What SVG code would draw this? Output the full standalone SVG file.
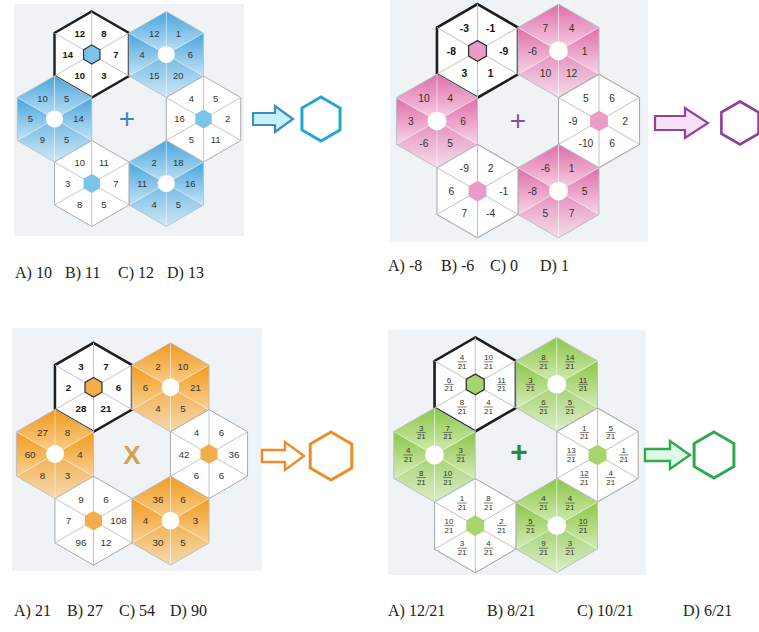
<svg xmlns="http://www.w3.org/2000/svg" xmlns:xlink="http://www.w3.org/1999/xlink" width="759" height="632" viewBox="0 0 759 632">
<style>
.bg{fill:#eff3f6}
.wf{fill:#fff;stroke:#a8a8a8;stroke-width:1.1}
.bf{fill:#fff;stroke:#1e1e1e;stroke-width:2.8}
.co{fill:none;stroke:#b4bec8;stroke-width:1}
.ws{fill:none;stroke:#bdbdbd;stroke-width:1}
.cs{fill:none;stroke:#fff;stroke-opacity:.55;stroke-width:1}
.lo{fill-opacity:.75}
.ck{stroke:#333;stroke-width:1.4}
.n{font-family:"Liberation Sans",Arial,sans-serif;font-size:11px;text-anchor:middle;fill:#333}
.nb{font-weight:bold;fill:#111}
.f{font-family:"Liberation Sans",Arial,sans-serif;font-size:8.5px;text-anchor:middle;fill:#333}
.fl{stroke:#444;stroke-width:.7}
.ans{font-family:"Liberation Serif","Times New Roman",serif;font-size:16px;fill:#222}
.op{font-family:"Liberation Sans",Arial,sans-serif;text-anchor:middle}
</style>
<defs>
<linearGradient id="gB" x1="0" y1="0" x2="0" y2="1"><stop offset="0" stop-color="#48a5dc"/><stop offset="1" stop-color="#c4e3f5"/></linearGradient>
<linearGradient id="gP" x1="0" y1="0" x2="0" y2="1"><stop offset="0" stop-color="#de6ea8"/><stop offset="1" stop-color="#f8d5e7"/></linearGradient>
<linearGradient id="gO" x1="0" y1="0" x2="0" y2="1"><stop offset="0" stop-color="#f29a1c"/><stop offset="1" stop-color="#f9d193"/></linearGradient>
<linearGradient id="gG" x1="0" y1="0" x2="0" y2="1"><stop offset="0" stop-color="#8cc646"/><stop offset="1" stop-color="#d6ecb8"/></linearGradient>
<polygon id="hx" points="0,-50 43.3,-25 43.3,25 0,50 -43.3,25 -43.3,-25"/>
<path id="sp" d="M0,-50V50M43.3,-25L-43.3,25M43.3,25L-43.3,-25"/>
<polygon id="sUR" points="0,0 0,-50 43.3,-25"/>
<polygon id="sR" points="0,0 43.3,-25 43.3,25"/>
<polygon id="sLR" points="0,0 43.3,25 0,50"/>
<polygon id="sLL" points="0,0 0,50 -43.3,25"/>
<polygon id="sL" points="0,0 -43.3,25 -43.3,-25"/>
<polygon id="sUL" points="0,0 -43.3,-25 0,-50"/>
<polygon id="ch" points="0,-11 9.53,-5.5 9.53,5.5 0,11 -9.53,5.5 -9.53,-5.5"/>
</defs>

<rect class="bg" x="14" y="4" width="230" height="232"/>
<rect class="bg" x="390" y="0" width="258" height="242"/>
<rect class="bg" x="12" y="328" width="250" height="243"/>
<rect class="bg" x="388" y="330" width="258" height="245"/>

<!-- Panel 1 -->
<g id="p1-tl" transform="translate(91.75,54.5) scale(.86)">
<use href="#hx" class="bf"/><use href="#sp" class="ws"/><use href="#ch" class="ck" fill="#7cc3ea"/>
<text class="n nb" x="-14" y="-20">12</text><text class="n nb" x="14" y="-20">8</text><text class="n nb" x="28" y="4">7</text><text class="n nb" x="14" y="28">3</text><text class="n nb" x="-14" y="28">10</text><text class="n nb" x="-28" y="4">14</text>
</g>
<g id="p1-tr" transform="translate(166.25,54.5) scale(.86)">
<use href="#sUL" fill="url(#gB)"/><use href="#sUR" fill="url(#gB)"/><use href="#sR" fill="url(#gB)"/><use href="#sL" fill="url(#gB)"/><use href="#sLR" class="lo" fill="url(#gB)"/><use href="#sLL" class="lo" fill="url(#gB)"/>
<use href="#sp" class="cs"/><use href="#hx" class="co"/><circle r="10" fill="#fff"/>
<text class="n" x="-14" y="-20">12</text><text class="n" x="14" y="-20">1</text><text class="n" x="28" y="4">6</text><text class="n" x="14" y="28">20</text><text class="n" x="-14" y="28">15</text><text class="n" x="-28" y="4">4</text>
</g>
<g id="p1-r" transform="translate(203.5,119) scale(.86)">
<use href="#hx" class="wf"/><use href="#sp" class="ws"/><use href="#ch" fill="#7cc3ea"/>
<text class="n" x="-14" y="-20">4</text><text class="n" x="14" y="-20">5</text><text class="n" x="28" y="4">2</text><text class="n" x="14" y="28">11</text><text class="n" x="-14" y="28">5</text><text class="n" x="-28" y="4">16</text>
</g>
<g id="p1-br" transform="translate(166.25,183.5) scale(.86)">
<use href="#sUL" fill="url(#gB)"/><use href="#sUR" fill="url(#gB)"/><use href="#sR" fill="url(#gB)"/><use href="#sL" fill="url(#gB)"/><use href="#sLR" class="lo" fill="url(#gB)"/><use href="#sLL" class="lo" fill="url(#gB)"/>
<use href="#sp" class="cs"/><use href="#hx" class="co"/><circle r="10" fill="#fff"/>
<text class="n" x="-14" y="-20">2</text><text class="n" x="14" y="-20">18</text><text class="n" x="28" y="4">16</text><text class="n" x="14" y="28">5</text><text class="n" x="-14" y="28">4</text><text class="n" x="-28" y="4">11</text>
</g>
<g id="p1-bl" transform="translate(91.75,183.5) scale(.86)">
<use href="#hx" class="wf"/><use href="#sp" class="ws"/><use href="#ch" fill="#7cc3ea"/>
<text class="n" x="-14" y="-20">10</text><text class="n" x="14" y="-20">11</text><text class="n" x="28" y="4">7</text><text class="n" x="14" y="28">5</text><text class="n" x="-14" y="28">8</text><text class="n" x="-28" y="4">3</text>
</g>
<g id="p1-l" transform="translate(54.5,119) scale(.86)">
<use href="#sUL" fill="url(#gB)"/><use href="#sUR" fill="url(#gB)"/><use href="#sR" fill="url(#gB)"/><use href="#sL" fill="url(#gB)"/><use href="#sLR" class="lo" fill="url(#gB)"/><use href="#sLL" class="lo" fill="url(#gB)"/>
<use href="#sp" class="cs"/><use href="#hx" class="co"/><circle r="10" fill="#fff"/>
<text class="n" x="-14" y="-20">10</text><text class="n" x="14" y="-20">5</text><text class="n" x="28" y="4">14</text><text class="n" x="14" y="28">5</text><text class="n" x="-14" y="28">9</text><text class="n" x="-28" y="4">5</text>
</g>
<text class="op" x="127" y="128" font-size="28" fill="#3a86c0">+</text>
<g id="p1-answer">
<path d="M253,113H275V106L293,119L275,132V125H253Z" fill="#c8f0ff" stroke="#3c8fba" stroke-width="2.2"/>
<polygon points="321,97 340.05,108 340.05,130 321,141 301.95,130 301.95,108" fill="#fff" stroke="#22a6d8" stroke-width="3"/>
</g>

<!-- Panel 2 -->
<g id="p2-tl" transform="translate(477.5,50.9) scale(.936)">
<use href="#hx" class="bf"/><use href="#sp" class="ws"/><use href="#ch" class="ck" fill="#eb9cc6"/>
<text class="n nb" x="-14" y="-20">-3</text><text class="n nb" x="14" y="-20">-1</text><text class="n nb" x="28" y="4">-9</text><text class="n nb" x="14" y="28">1</text><text class="n nb" x="-14" y="28">3</text><text class="n nb" x="-28" y="4">-8</text>
</g>
<g id="p2-tr" transform="translate(558.5,50.9) scale(.936)">
<use href="#sUL" fill="url(#gP)"/><use href="#sUR" fill="url(#gP)"/><use href="#sR" fill="url(#gP)"/><use href="#sL" fill="url(#gP)"/><use href="#sLR" class="lo" fill="url(#gP)"/><use href="#sLL" class="lo" fill="url(#gP)"/>
<use href="#sp" class="cs"/><use href="#hx" class="co"/><circle r="10" fill="#fff"/>
<text class="n" x="-14" y="-20">7</text><text class="n" x="14" y="-20">4</text><text class="n" x="28" y="4">1</text><text class="n" x="14" y="28">12</text><text class="n" x="-14" y="28">10</text><text class="n" x="-28" y="4">-6</text>
</g>
<g id="p2-r" transform="translate(599,121) scale(.936)">
<use href="#hx" class="wf"/><use href="#sp" class="ws"/><use href="#ch" fill="#eb9cc6"/>
<text class="n" x="-14" y="-20">5</text><text class="n" x="14" y="-20">6</text><text class="n" x="28" y="4">2</text><text class="n" x="14" y="28">6</text><text class="n" x="-14" y="28">-10</text><text class="n" x="-28" y="4">-9</text>
</g>
<g id="p2-br" transform="translate(558.5,191.1) scale(.936)">
<use href="#sUL" fill="url(#gP)"/><use href="#sUR" fill="url(#gP)"/><use href="#sR" fill="url(#gP)"/><use href="#sL" fill="url(#gP)"/><use href="#sLR" class="lo" fill="url(#gP)"/><use href="#sLL" class="lo" fill="url(#gP)"/>
<use href="#sp" class="cs"/><use href="#hx" class="co"/><circle r="10" fill="#fff"/>
<text class="n" x="-14" y="-20">-6</text><text class="n" x="14" y="-20">1</text><text class="n" x="28" y="4">5</text><text class="n" x="14" y="28">7</text><text class="n" x="-14" y="28">5</text><text class="n" x="-28" y="4">-8</text>
</g>
<g id="p2-bl" transform="translate(477.5,191.1) scale(.936)">
<use href="#hx" class="wf"/><use href="#sp" class="ws"/><use href="#ch" fill="#eb9cc6"/>
<text class="n" x="-14" y="-20">-9</text><text class="n" x="14" y="-20">2</text><text class="n" x="28" y="4">-1</text><text class="n" x="14" y="28">-4</text><text class="n" x="-14" y="28">7</text><text class="n" x="-28" y="4">6</text>
</g>
<g id="p2-l" transform="translate(437,121) scale(.936)">
<use href="#sUL" fill="url(#gP)"/><use href="#sUR" fill="url(#gP)"/><use href="#sR" fill="url(#gP)"/><use href="#sL" fill="url(#gP)"/><use href="#sLR" class="lo" fill="url(#gP)"/><use href="#sLL" class="lo" fill="url(#gP)"/>
<use href="#sp" class="cs"/><use href="#hx" class="co"/><circle r="10" fill="#fff"/>
<text class="n" x="-14" y="-20">10</text><text class="n" x="14" y="-20">4</text><text class="n" x="28" y="4">6</text><text class="n" x="14" y="28">5</text><text class="n" x="-14" y="28">-6</text><text class="n" x="-28" y="4">3</text>
</g>
<text class="op" x="518" y="130" font-size="28" fill="#8b4c9e">+</text>
<g id="p2-answer">
<path d="M655,116H685V108L708,123L685,138V130H655Z" fill="#f7e2f5" stroke="#9a3f9c" stroke-width="2.2"/>
<polygon points="740,101.5 758.6,112.25 758.6,133.75 740,144.5 721.4,133.75 721.4,112.25" fill="#fff" stroke="#8f3d95" stroke-width="2.6"/>
</g>

<!-- Panel 3 -->
<g id="p3-tl" transform="translate(93.5,387.3) scale(.89)">
<use href="#hx" class="bf"/><use href="#sp" class="ws"/><use href="#ch" class="ck" fill="#f4ad4a"/>
<text class="n nb" x="-14" y="-20">3</text><text class="n nb" x="14" y="-20">7</text><text class="n nb" x="28" y="4">6</text><text class="n nb" x="14" y="28">21</text><text class="n nb" x="-14" y="28">28</text><text class="n nb" x="-28" y="4">2</text>
</g>
<g id="p3-tr" transform="translate(170.5,387.3) scale(.89)">
<use href="#sUL" fill="url(#gO)"/><use href="#sUR" fill="url(#gO)"/><use href="#sR" fill="url(#gO)"/><use href="#sL" fill="url(#gO)"/><use href="#sLR" class="lo" fill="url(#gO)"/><use href="#sLL" class="lo" fill="url(#gO)"/>
<use href="#sp" class="cs"/><use href="#hx" class="co"/><circle r="10" fill="#fff"/>
<text class="n" x="-14" y="-20">2</text><text class="n" x="14" y="-20">10</text><text class="n" x="28" y="4">21</text><text class="n" x="14" y="28">5</text><text class="n" x="-14" y="28">4</text><text class="n" x="-28" y="4">6</text>
</g>
<g id="p3-r" transform="translate(209,454) scale(.89)">
<use href="#hx" class="wf"/><use href="#sp" class="ws"/><use href="#ch" fill="#f4ad4a"/>
<text class="n" x="-14" y="-20">4</text><text class="n" x="14" y="-20">6</text><text class="n" x="28" y="4">36</text><text class="n" x="14" y="28">6</text><text class="n" x="-14" y="28">6</text><text class="n" x="-28" y="4">42</text>
</g>
<g id="p3-br" transform="translate(170.5,520.7) scale(.89)">
<use href="#sUL" fill="url(#gO)"/><use href="#sUR" fill="url(#gO)"/><use href="#sR" fill="url(#gO)"/><use href="#sL" fill="url(#gO)"/><use href="#sLR" class="lo" fill="url(#gO)"/><use href="#sLL" class="lo" fill="url(#gO)"/>
<use href="#sp" class="cs"/><use href="#hx" class="co"/><circle r="10" fill="#fff"/>
<text class="n" x="-14" y="-20">36</text><text class="n" x="14" y="-20">6</text><text class="n" x="28" y="4">3</text><text class="n" x="14" y="28">5</text><text class="n" x="-14" y="28">30</text><text class="n" x="-28" y="4">4</text>
</g>
<g id="p3-bl" transform="translate(93.5,520.7) scale(.89)">
<use href="#hx" class="wf"/><use href="#sp" class="ws"/><use href="#ch" fill="#f4ad4a"/>
<text class="n" x="-14" y="-20">9</text><text class="n" x="14" y="-20">6</text><text class="n" x="28" y="4">108</text><text class="n" x="14" y="28">12</text><text class="n" x="-14" y="28">96</text><text class="n" x="-28" y="4">7</text>
</g>
<g id="p3-l" transform="translate(55,454) scale(.89)">
<use href="#sUL" fill="url(#gO)"/><use href="#sUR" fill="url(#gO)"/><use href="#sR" fill="url(#gO)"/><use href="#sL" fill="url(#gO)"/><use href="#sLR" class="lo" fill="url(#gO)"/><use href="#sLL" class="lo" fill="url(#gO)"/>
<use href="#sp" class="cs"/><use href="#hx" class="co"/><circle r="10" fill="#fff"/>
<text class="n" x="-14" y="-20">27</text><text class="n" x="14" y="-20">8</text><text class="n" x="28" y="4">4</text><text class="n" x="14" y="28">3</text><text class="n" x="-14" y="28">8</text><text class="n" x="-28" y="4">60</text>
</g>
<text class="op" x="132" y="464" font-size="26" font-weight="bold" fill="#d2a24c">X</text>
<g id="p3-answer">
<path d="M262,450H285V442L304,456L285,470V462H262Z" fill="#fff" stroke="#f08a24" stroke-width="2.4"/>
<polygon points="331,432 351.8,444 351.8,468 331,480 310.2,468 310.2,444" fill="#fff" stroke="#f08a24" stroke-width="3"/>
</g>

<!-- Panel 4 -->
<g id="p4-tl" transform="translate(475.25,384.4) scale(.94)">
<use href="#hx" class="bf"/><use href="#sp" class="ws"/><use href="#ch" class="ck" fill="#a9d46d"/>
<g transform="translate(-14,-24)"><text class="f" y="-2">4</text><line class="fl" x1="-5" x2="5"/><text class="f" y="7.5">21</text></g>
<g transform="translate(14,-24)"><text class="f" y="-2">10</text><line class="fl" x1="-5" x2="5"/><text class="f" y="7.5">21</text></g>
<g transform="translate(28,0)"><text class="f" y="-2">11</text><line class="fl" x1="-5" x2="5"/><text class="f" y="7.5">21</text></g>
<g transform="translate(14,24)"><text class="f" y="-2">4</text><line class="fl" x1="-5" x2="5"/><text class="f" y="7.5">21</text></g>
<g transform="translate(-14,24)"><text class="f" y="-2">8</text><line class="fl" x1="-5" x2="5"/><text class="f" y="7.5">21</text></g>
<g transform="translate(-28,0)"><text class="f" y="-2">6</text><line class="fl" x1="-5" x2="5"/><text class="f" y="7.5">21</text></g>
</g>
<g id="p4-tr" transform="translate(556.75,384.4) scale(.94)">
<use href="#sUL" fill="url(#gG)"/><use href="#sUR" fill="url(#gG)"/><use href="#sR" fill="url(#gG)"/><use href="#sL" fill="url(#gG)"/><use href="#sLR" class="lo" fill="url(#gG)"/><use href="#sLL" class="lo" fill="url(#gG)"/>
<use href="#sp" class="cs"/><use href="#hx" class="co"/><circle r="10" fill="#fff"/>
<g transform="translate(-14,-24)"><text class="f" y="-2">8</text><line class="fl" x1="-5" x2="5"/><text class="f" y="7.5">21</text></g>
<g transform="translate(14,-24)"><text class="f" y="-2">14</text><line class="fl" x1="-5" x2="5"/><text class="f" y="7.5">21</text></g>
<g transform="translate(28,0)"><text class="f" y="-2">11</text><line class="fl" x1="-5" x2="5"/><text class="f" y="7.5">21</text></g>
<g transform="translate(14,24)"><text class="f" y="-2">5</text><line class="fl" x1="-5" x2="5"/><text class="f" y="7.5">21</text></g>
<g transform="translate(-14,24)"><text class="f" y="-2">6</text><line class="fl" x1="-5" x2="5"/><text class="f" y="7.5">21</text></g>
<g transform="translate(-28,0)"><text class="f" y="-2">3</text><line class="fl" x1="-5" x2="5"/><text class="f" y="7.5">21</text></g>
</g>
<g id="p4-r" transform="translate(597.5,455) scale(.94)">
<use href="#hx" class="wf"/><use href="#sp" class="ws"/><use href="#ch" fill="#a9d46d"/>
<g transform="translate(-14,-24)"><text class="f" y="-2">1</text><line class="fl" x1="-5" x2="5"/><text class="f" y="7.5">21</text></g>
<g transform="translate(14,-24)"><text class="f" y="-2">5</text><line class="fl" x1="-5" x2="5"/><text class="f" y="7.5">21</text></g>
<g transform="translate(28,0)"><text class="f" y="-2">1</text><line class="fl" x1="-5" x2="5"/><text class="f" y="7.5">21</text></g>
<g transform="translate(14,24)"><text class="f" y="-2">4</text><line class="fl" x1="-5" x2="5"/><text class="f" y="7.5">21</text></g>
<g transform="translate(-14,24)"><text class="f" y="-2">12</text><line class="fl" x1="-5" x2="5"/><text class="f" y="7.5">21</text></g>
<g transform="translate(-28,0)"><text class="f" y="-2">13</text><line class="fl" x1="-5" x2="5"/><text class="f" y="7.5">21</text></g>
</g>
<g id="p4-br" transform="translate(556.75,525.6) scale(.94)">
<use href="#sUL" fill="url(#gG)"/><use href="#sUR" fill="url(#gG)"/><use href="#sR" fill="url(#gG)"/><use href="#sL" fill="url(#gG)"/><use href="#sLR" class="lo" fill="url(#gG)"/><use href="#sLL" class="lo" fill="url(#gG)"/>
<use href="#sp" class="cs"/><use href="#hx" class="co"/><circle r="10" fill="#fff"/>
<g transform="translate(-14,-24)"><text class="f" y="-2">4</text><line class="fl" x1="-5" x2="5"/><text class="f" y="7.5">21</text></g>
<g transform="translate(14,-24)"><text class="f" y="-2">4</text><line class="fl" x1="-5" x2="5"/><text class="f" y="7.5">21</text></g>
<g transform="translate(28,0)"><text class="f" y="-2">10</text><line class="fl" x1="-5" x2="5"/><text class="f" y="7.5">21</text></g>
<g transform="translate(14,24)"><text class="f" y="-2">3</text><line class="fl" x1="-5" x2="5"/><text class="f" y="7.5">21</text></g>
<g transform="translate(-14,24)"><text class="f" y="-2">9</text><line class="fl" x1="-5" x2="5"/><text class="f" y="7.5">21</text></g>
<g transform="translate(-28,0)"><text class="f" y="-2">5</text><line class="fl" x1="-5" x2="5"/><text class="f" y="7.5">21</text></g>
</g>
<g id="p4-bl" transform="translate(475.25,525.6) scale(.94)">
<use href="#hx" class="wf"/><use href="#sp" class="ws"/><use href="#ch" fill="#a9d46d"/>
<g transform="translate(-14,-24)"><text class="f" y="-2">1</text><line class="fl" x1="-5" x2="5"/><text class="f" y="7.5">21</text></g>
<g transform="translate(14,-24)"><text class="f" y="-2">8</text><line class="fl" x1="-5" x2="5"/><text class="f" y="7.5">21</text></g>
<g transform="translate(28,0)"><text class="f" y="-2">2</text><line class="fl" x1="-5" x2="5"/><text class="f" y="7.5">21</text></g>
<g transform="translate(14,24)"><text class="f" y="-2">4</text><line class="fl" x1="-5" x2="5"/><text class="f" y="7.5">21</text></g>
<g transform="translate(-14,24)"><text class="f" y="-2">3</text><line class="fl" x1="-5" x2="5"/><text class="f" y="7.5">21</text></g>
<g transform="translate(-28,0)"><text class="f" y="-2">10</text><line class="fl" x1="-5" x2="5"/><text class="f" y="7.5">21</text></g>
</g>
<g id="p4-l" transform="translate(434.5,455) scale(.94)">
<use href="#sUL" fill="url(#gG)"/><use href="#sUR" fill="url(#gG)"/><use href="#sR" fill="url(#gG)"/><use href="#sL" fill="url(#gG)"/><use href="#sLR" class="lo" fill="url(#gG)"/><use href="#sLL" class="lo" fill="url(#gG)"/>
<use href="#sp" class="cs"/><use href="#hx" class="co"/><circle r="10" fill="#fff"/>
<g transform="translate(-14,-24)"><text class="f" y="-2">3</text><line class="fl" x1="-5" x2="5"/><text class="f" y="7.5">21</text></g>
<g transform="translate(14,-24)"><text class="f" y="-2">7</text><line class="fl" x1="-5" x2="5"/><text class="f" y="7.5">21</text></g>
<g transform="translate(28,0)"><text class="f" y="-2">3</text><line class="fl" x1="-5" x2="5"/><text class="f" y="7.5">21</text></g>
<g transform="translate(14,24)"><text class="f" y="-2">10</text><line class="fl" x1="-5" x2="5"/><text class="f" y="7.5">21</text></g>
<g transform="translate(-14,24)"><text class="f" y="-2">8</text><line class="fl" x1="-5" x2="5"/><text class="f" y="7.5">21</text></g>
<g transform="translate(-28,0)"><text class="f" y="-2">4</text><line class="fl" x1="-5" x2="5"/><text class="f" y="7.5">21</text></g>
</g>
<text class="op" x="519" y="462" font-size="30" font-weight="bold" fill="#2e8b3e">+</text>
<g id="p4-answer">
<path d="M645,449H670V441L690,455L670,469V461H645Z" fill="#e0f8e8" stroke="#2fa84f" stroke-width="2.4"/>
<polygon points="714,432 733.9,443.5 733.9,466.5 714,478 694.1,466.5 694.1,443.5" fill="#fff" stroke="#2fa84f" stroke-width="3"/>
</g>

<!-- Answer options -->
<g id="options">
<text class="ans" x="15" y="278">A) 10</text><text class="ans" x="65" y="278">B) 11</text><text class="ans" x="118" y="278">C) 12</text><text class="ans" x="167" y="278">D) 13</text>
<text class="ans" x="388" y="271">A) -8</text><text class="ans" x="441" y="271">B) -6</text><text class="ans" x="490" y="271">C) 0</text><text class="ans" x="540" y="271">D) 1</text>
<text class="ans" x="14" y="616">A) 21</text><text class="ans" x="67" y="616">B) 27</text><text class="ans" x="119" y="616">C) 54</text><text class="ans" x="170" y="616">D) 90</text>
<text class="ans" x="388" y="616">A) 12/21</text><text class="ans" x="487" y="616">B) 8/21</text><text class="ans" x="577" y="616">C) 10/21</text><text class="ans" x="683" y="616">D) 6/21</text>
</g>
</svg>
